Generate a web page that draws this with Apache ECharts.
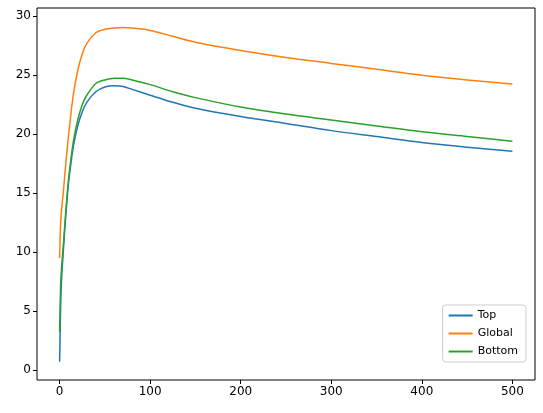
<!DOCTYPE html>
<html><head><meta charset="utf-8">
<script src="https://cdn.jsdelivr.net/npm/echarts@6/dist/echarts.min.js"></script>
<style>html,body{margin:0;padding:0;background:#fff}#c{width:543px;height:413px}</style>
</head><body><div id="c"></div>
<script>
const xs = [0,1,2,4,6,8,10,15,20,25,30,40,50,60,70,80,100,125,150,200,250,300,350,400,450,500];
const top_ = [0.7,5.0,7.5,10,12.3,14.3,16,18.9,20.7,21.9,22.7,23.6,24.0,24.1,24.05,23.8,23.3,22.7,22.2,21.5,20.9,20.3,19.8,19.3,18.9,18.55];
const globalV = [9.5,12.3,13.5,15,16.8,18.5,20,23.3,25.4,26.8,27.7,28.6,28.9,29.0,29.05,29.0,28.8,28.3,27.8,27.1,26.5,26.0,25.5,25.0,24.6,24.25];
const bottom = [3.2,7,8.5,10.5,12.6,14.6,16.3,19.3,21.2,22.5,23.3,24.3,24.6,24.75,24.75,24.6,24.2,23.6,23.1,22.3,21.7,21.2,20.7,20.2,19.8,19.4];
const xTicks = [0,100,200,300,400,500];
const yTicks = [0,5,10,15,20,25,30];
const names = ['Top','Global','Bottom'];
const colors = ['#1f77b4','#ff7f0e','#2ca02c'];
const pair = a => xs.map((x,i)=>[x,a[i]]);
const font = {fontFamily:'DejaVu Sans',fontSize:12,color:'#000'};
const chart = echarts.init(document.getElementById('c'));
chart.setOption({
  animation:false,
  grid:{left:37,right:8,top:8,bottom:33,show:true,borderColor:'#000',borderWidth:1},
  legend:{orient:'vertical',right:17,bottom:51,itemWidth:24,itemHeight:2,itemGap:7,
    icon:'rect',textStyle:{...font,fontSize:11},borderColor:'#ccc',borderWidth:1,borderRadius:3,padding:[5,8,5,6],
    data:names},
  xAxis:{type:'value',min:-25,max:525,splitLine:{show:false},
    axisLine:{show:false,onZero:false},
    axisTick:{show:true,customValues:xTicks,length:4,lineStyle:{color:'#000'}},
    axisLabel:{customValues:xTicks,...font,margin:6}},
  yAxis:{type:'value',min:-0.85,max:30.7,splitLine:{show:false},
    axisLine:{show:false,onZero:false},
    axisTick:{show:true,customValues:yTicks,length:4,lineStyle:{color:'#000'}},
    axisLabel:{customValues:yTicks,...font,margin:6}},
  series:[top_,globalV,bottom].map((d,i)=>({name:names[i],type:'line',data:pair(d),
    smooth:0.3,showSymbol:false,lineStyle:{width:1.5,color:colors[i]},itemStyle:{color:colors[i]}}))
});
</script></body></html>
